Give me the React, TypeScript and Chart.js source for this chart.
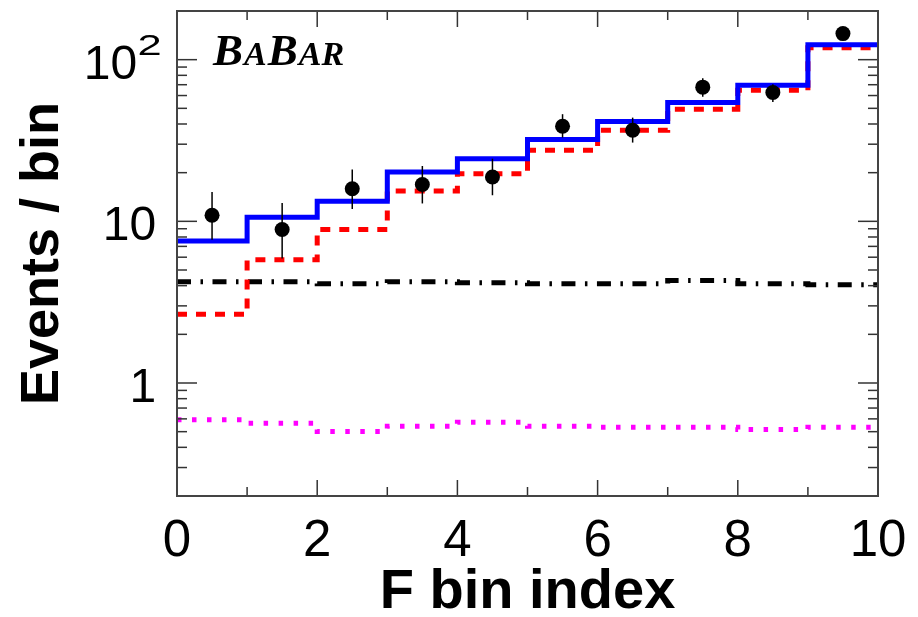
import React, { useEffect, useRef } from 'react';
import { Chart, registerables } from 'chart.js';

Chart.register(...registerables);

// ---- data ----
const binEdges = [0, 1, 2, 3, 4, 5, 6, 7, 8, 9, 10];
const binCenters = [0.5, 1.5, 2.5, 3.5, 4.5, 5.5, 6.5, 7.5, 8.5, 9.5];
const dataCounts = [10.9, 8.9, 15.9, 16.9, 18.8, 38.7, 36.6, 67.6, 62.7, 145];
const dataErrLow = [7.7, 5.9, 11.9, 12.9, 14.5, 33.0, 30.7, 58.9, 54.8, 134];
const dataErrHigh = [15.2, 13.0, 20.9, 22.0, 24.4, 46.0, 43.8, 76.8, 70.5, 157];
const totalFit = [7.55, 10.6, 13.3, 20.2, 24.4, 32.1, 41.4, 54.3, 69.5, 123.5];
const signalFit = [2.66, 5.79, 8.89, 15.4, 19.7, 27.5, 36.6, 49.4, 64.7, 118.3];
const bkgDashDot = [4.23, 4.23, 4.11, 4.23, 4.17, 4.11, 4.11, 4.31, 4.11, 4.05];
const bkgDotted = [0.592, 0.564, 0.501, 0.54, 0.572, 0.54, 0.533, 0.533, 0.515, 0.533];
const yTickValues = [1, 10, 100];
const yTickBases = ['1', '10', '10'];
const yTickExponents = ['', '', '2'];
const xTitle = 'F bin index';
const yTitle = 'Events / bin';

const SANS = '"Liberation Sans", Arial, Helvetica, sans-serif';
const SERIF = '"Liberation Serif", "Times New Roman", serif';

const toSteps = (vals: number[]) =>
  binEdges.map((x, i) => ({ x, y: vals[Math.min(i, vals.length - 1)] }));

const rootPlugin = {
  id: 'rootStyle',
  afterDatasetsDraw(chart: any) {
    const { ctx, chartArea: a, scales } = chart;
    const xs = scales.x;
    const ys = scales.y;
    ctx.save();

    // error bars
    ctx.strokeStyle = '#000';
    ctx.lineWidth = 1.5;
    binCenters.forEach((x, i) => {
      const px = xs.getPixelForValue(x);
      ctx.beginPath();
      ctx.moveTo(px, ys.getPixelForValue(dataErrLow[i]));
      ctx.lineTo(px, ys.getPixelForValue(dataErrHigh[i]));
      ctx.stroke();
    });

    // ticks (inside, on all four sides)
    ctx.strokeStyle = '#333';
    ctx.lineWidth = 1.5;
    const seg = (x1: number, y1: number, x2: number, y2: number) => {
      ctx.beginPath();
      ctx.moveTo(x1, y1);
      ctx.lineTo(x2, y2);
      ctx.stroke();
    };
    for (let v = 0; v <= 10; v++) {
      const px = xs.getPixelForValue(v);
      const len = v % 2 === 0 ? 16 : 9;
      seg(px, a.bottom, px, a.bottom - len);
      seg(px, a.top, px, a.top + len);
    }
    [0.1, 1, 10, 100].forEach((d) => {
      for (let m = 1; m <= 9; m++) {
        const v = m * d;
        if (v < 0.2 - 1e-9 || v > 200 + 1e-9) continue;
        const py = ys.getPixelForValue(v);
        const len = m === 1 ? 20 : 10;
        seg(a.left, py, a.left + len, py);
        seg(a.right, py, a.right - len, py);
      }
    });

    // frame
    ctx.strokeStyle = '#444';
    ctx.lineWidth = 2;
    ctx.strokeRect(a.left, a.top, a.right - a.left, a.bottom - a.top);

    // y tick labels (with exponent)
    ctx.fillStyle = '#000';
    ctx.textAlign = 'left';
    ctx.textBaseline = 'alphabetic';
    yTickValues.forEach((v, i) => {
      const py = ys.getPixelForValue(v);
      const base = py + 19;
      ctx.font = `48px ${SANS}`;
      const t = yTickBases[i];
      const m = ctx.measureText(t);
      if (yTickExponents[i]) {
        ctx.fillText(t, a.left - 41.5 - m.actualBoundingBoxRight, base);
        ctx.font = `30px ${SANS}`;
        const e = yTickExponents[i];
        const me = ctx.measureText(e);
        const sx = 1.45;
        ctx.save();
        ctx.translate(a.left - 38 + me.actualBoundingBoxLeft * sx, base - 23.4);
        ctx.scale(sx, 1);
        ctx.fillText(e, 0, 0);
        ctx.restore();
      } else {
        ctx.fillText(t, a.left - 22.5 - m.actualBoundingBoxRight, base);
      }
    });

    // BaBar logo
    const parts: [string, number][] = [['B', 45], ['A', 34], ['B', 45], ['AR', 34]];
    let bx = a.left + 36;
    const by = a.top + 54;
    parts.forEach(([s, size]) => {
      ctx.font = `italic bold ${size}px ${SERIF}`;
      ctx.fillText(s, bx, by);
      bx += ctx.measureText(s).width + 1;
    });

    ctx.restore();
  },
};

export default function App() {
  const ref = useRef<HTMLCanvasElement | null>(null);
  useEffect(() => {
    if (!ref.current) return;
    const stepCommon = { stepped: 'before' as const, pointRadius: 0, fill: false, borderCapStyle: 'butt' as const, borderJoinStyle: 'miter' as const };
    const chart = new Chart(ref.current, {
      type: 'line',
      data: {
        datasets: [
          {
            label: 'Data',
            data: binCenters.map((x, i) => ({ x, y: dataCounts[i] })),
            showLine: false,
            pointRadius: 7.5,
            pointHoverRadius: 7.5,
            pointBackgroundColor: '#000',
            pointBorderWidth: 0,
            borderColor: '#000',
          },
          { label: 'Total', data: toSteps(totalFit), borderColor: '#0000ff', borderWidth: 5, ...stepCommon },
          { label: 'Signal', data: toSteps(signalFit), borderColor: '#ff0000', borderWidth: 5, borderDash: [10, 9], ...stepCommon },
          { label: 'Background', data: toSteps(bkgDashDot), borderColor: '#000000', borderWidth: 5, borderDash: [14, 9.5, 2.5, 9.5], ...stepCommon },
          { label: 'Other', data: toSteps(bkgDotted), borderColor: '#ff00ff', borderWidth: 5, borderDash: [4.5, 10.5], ...stepCommon },
        ],
      },
      options: {
        responsive: false,
        animation: false,
        devicePixelRatio: 1,
        events: [],
        layout: { padding: { left: 0, right: 40, top: 11, bottom: 0 } },
        plugins: { legend: { display: false }, tooltip: { enabled: false } },
        scales: {
          x: {
            type: 'linear',
            min: 0,
            max: 10,
            grid: { display: false },
            border: { display: false },
            ticks: { stepSize: 2, padding: 7, color: '#000', maxRotation: 0, autoSkip: false, font: { family: SANS, size: 51 } },
            title: { display: true, text: xTitle, color: '#000', padding: 0, font: { family: SANS, size: 56, weight: 'bold', lineHeight: 0.88 } },
            afterFit: (s: any) => { s.height = 121; },
          },
          y: {
            type: 'logarithmic',
            min: 0.2,
            max: 200,
            grid: { display: false },
            border: { display: false },
            ticks: { display: false },
            title: { display: true, text: yTitle, color: '#000', padding: { top: 16.3, bottom: 0 }, font: { family: SANS, size: 54, weight: 'bold', lineHeight: 1 } },
            afterFit: (s: any) => { s.width = 177; },
          },
        },
      },
      plugins: [rootPlugin],
    } as any);
    return () => chart.destroy();
  }, []);
  return (
    <div style={{ position: 'fixed', left: 0, top: 0, width: 918, height: 617, background: '#fff' }}>
      <canvas ref={ref} width={918} height={617} style={{ display: 'block' }} />
    </div>
  );
}
